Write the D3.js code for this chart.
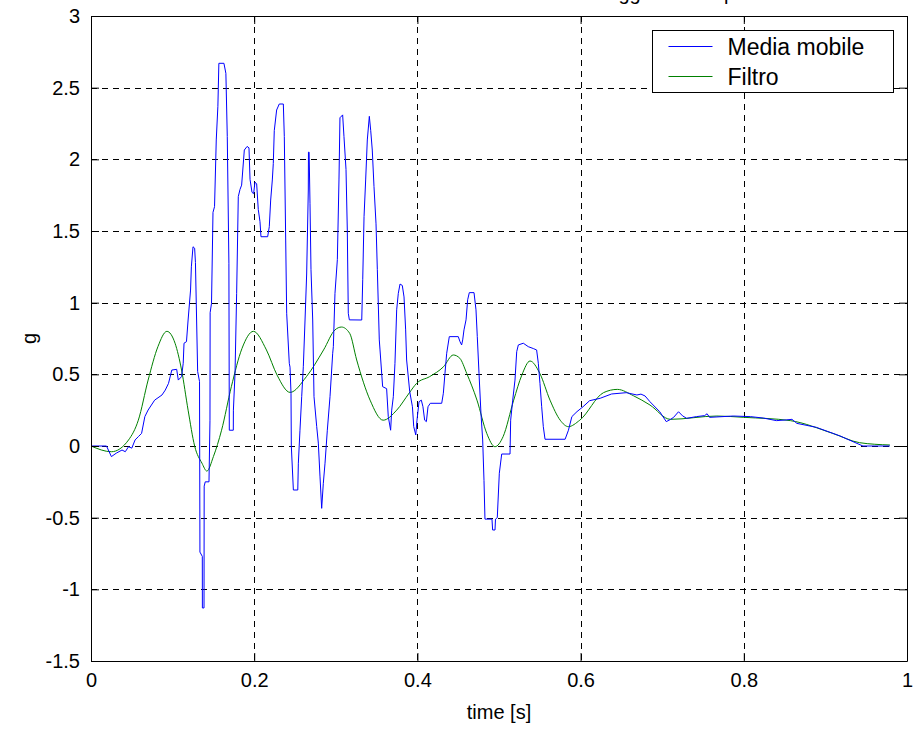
<!DOCTYPE html>
<html>
<head>
<meta charset="utf-8">
<script src="https://cdn.jsdelivr.net/npm/d3@7"></script>
<style>
  body { margin: 0; background: #fff; }
  svg { display: block; font-family: "Liberation Sans", Arial, sans-serif; }
</style>
</head>
<body>
<svg id="chart" width="913" height="729"></svg>
<script>
// Axis ticks
const xTicks = [0, 0.2, 0.4, 0.6, 0.8, 1];
const yTicks = [-1.5, -1, -0.5, 0, 0.5, 1, 1.5, 2, 2.5, 3];

// Moving-average acceleration (time in s, value in g)
const mediaT = [0, 0.019, 0.025, 0.031, 0.038, 0.042, 0.046, 0.05, 0.054, 0.058, 0.062, 0.066, 0.07, 0.078, 0.087, 0.091, 0.095, 0.099, 0.105, 0.107, 0.111, 0.113, 0.114, 0.117, 0.119, 0.122, 0.123, 0.125, 0.127, 0.128, 0.1307, 0.133, 0.1335, 0.1364, 0.1365, 0.1385, 0.1387, 0.140, 0.1446, 0.1458, 0.146, 0.1477, 0.1495, 0.1514, 0.1535, 0.1555, 0.1567, 0.1629, 0.1653, 0.167, 0.169, 0.1695, 0.1744, 0.1745, 0.1765, 0.1785, 0.1805, 0.1826, 0.1846, 0.1879, 0.1913, 0.1936, 0.1949, 0.1973, 0.1993, 0.2009, 0.203, 0.205, 0.2071, 0.2083, 0.2165, 0.2185, 0.2202, 0.2222, 0.2234, 0.2246, 0.2275, 0.2307, 0.2357, 0.2369, 0.2386, 0.2398, 0.243, 0.2439, 0.2451, 0.2455, 0.248, 0.2534, 0.2541, 0.2561, 0.2582, 0.2602, 0.2605, 0.2623, 0.2643, 0.2663, 0.2665, 0.2673, 0.2684, 0.2696, 0.2717, 0.2733, 0.2766, 0.2786, 0.2806, 0.2827, 0.2847, 0.2868, 0.2896, 0.2929, 0.2962, 0.297, 0.299, 0.3019, 0.3039, 0.3051, 0.3084, 0.31, 0.3125, 0.3141, 0.3153, 0.3166, 0.3318, 0.333, 0.3346, 0.3366, 0.3386, 0.3411, 0.3428, 0.3447, 0.3468, 0.3493, 0.3509, 0.3533, 0.3542, 0.3574, 0.3623, 0.3643, 0.3672, 0.3685, 0.3705, 0.3725, 0.3746, 0.3766, 0.3787, 0.3815, 0.3836, 0.3856, 0.3868, 0.3906, 0.3939, 0.3955, 0.398, 0.3995, 0.402, 0.4048, 0.4068, 0.4089, 0.411, 0.413, 0.4158, 0.4298, 0.4318, 0.4338, 0.4359, 0.4391, 0.4501, 0.4522, 0.4542, 0.4555, 0.4571, 0.4596, 0.4616, 0.4636, 0.4694, 0.4718, 0.4734, 0.4755, 0.4779, 0.48, 0.4816, 0.4828, 0.4914, 0.4922, 0.4951, 0.4957, 0.4979, 0.5004, 0.5033, 0.5135, 0.5143, 0.5168, 0.5196, 0.5217, 0.5237, 0.5298, 0.5359, 0.542, 0.5461, 0.5482, 0.5502, 0.5523, 0.5543, 0.5564, 0.581, 0.5851, 0.5893, 0.5956, 0.603, 0.611, 0.624, 0.638, 0.656, 0.669, 0.674, 0.679, 0.685, 0.697, 0.705, 0.71, 0.714, 0.72, 0.725, 0.73, 0.742, 0.752, 0.755, 0.758, 0.787, 0.808, 0.824, 0.84, 0.852, 0.859, 0.865, 0.889, 0.918, 0.946, 0.979];
const mediaG = [0, 0, -0.074, -0.05, -0.028, -0.04, -0.005, -0.015, 0.042, 0.065, 0.088, 0.205, 0.251, 0.32, 0.356, 0.39, 0.437, 0.53, 0.535, 0.46, 0.484, 0.577, 0.717, 0.728, 0.879, 1.088, 1.25, 1.39, 1.38, 1.28, 0.52, 0.45, -0.74, -0.77, -1.13, -1.13, -0.28, -0.25, -0.25, 0.18, 0.93, 0.996, 1.63, 1.67, 2.135, 2.37, 2.67, 2.67, 2.6, 2.16, 1.275, 0.11, 0.11, 0.25, 0.507, 1.065, 1.74, 1.79, 1.82, 2.065, 2.09, 2.08, 1.86, 1.77, 1.76, 1.84, 1.83, 1.65, 1.565, 1.46, 1.46, 1.53, 1.716, 1.856, 1.97, 2.2, 2.344, 2.386, 2.386, 2.16, 1.437, 0.926, 0.577, 0.55, 0.368, 0, -0.307, -0.307, -0.12, 0.11, 0.344, 0.553, 0.6, 0.879, 1.2, 1.786, 2.05, 2.05, 1.69, 1.23, 0.879, 0.344, 0.135, 0.02, -0.21, -0.435, -0.26, -0.12, 0.11, 0.344, 0.647, 0.693, 1.065, 1.3, 1.856, 2.29, 2.31, 2.16, 1.93, 1.507, 0.926, 0.88, 0.879, 1.16, 1.6, 1.856, 2.135, 2.3, 2.2, 2.065, 1.81, 1.55, 1.23, 0.74, 0.67, 0.414, 0.4, 0.205, 0.11, 0.25, 0.344, 0.577, 0.95, 1.065, 1.13, 1.12, 1.04, 0.81, 0.6, 0.379, 0.274, 0.135, 0.077, 0.18, 0.309, 0.32, 0.274, 0.18, 0.17, 0.274, 0.298, 0.298, 0.368, 0.507, 0.647, 0.763, 0.763, 0.728, 0.705, 0.74, 0.81, 0.88, 1.02, 1.07, 1.07, 0.95, 0.763, 0.507, 0.228, 0.042, -0.24, -0.51, -0.51, -0.586, -0.586, -0.51, -0.5, -0.19, -0.056, -0.056, 0.18, 0.32, 0.46, 0.658, 0.705, 0.717, 0.693, 0.68, 0.67, 0.577, 0.437, 0.274, 0.135, 0.047, 0.047, 0.11, 0.205, 0.24, 0.274, 0.316, 0.333, 0.363, 0.372, 0.356, 0.362, 0.349, 0.309, 0.239, 0.17, 0.185, 0.2, 0.239, 0.21, 0.193, 0.205, 0.212, 0.225, 0.2, 0.209, 0.205, 0.195, 0.177, 0.182, 0.186, 0.158, 0.13, 0.07, 0, 0];

// Filtered acceleration (time in s, value in g)
const filtroT = [0, 0.025, 0.046, 0.058, 0.07, 0.082, 0.093, 0.103, 0.111, 0.119, 0.127, 0.136, 0.142, 0.15, 0.16, 0.172, 0.185, 0.199, 0.215, 0.228, 0.244, 0.264, 0.285, 0.299, 0.307, 0.317, 0.3256, 0.342, 0.358, 0.3746, 0.39, 0.399, 0.415, 0.432, 0.444, 0.452, 0.4604, 0.473, 0.485, 0.495, 0.505, 0.518, 0.528, 0.538, 0.55, 0.5625, 0.575, 0.585, 0.599, 0.628, 0.645, 0.665, 0.685, 0.71, 0.767, 0.8, 0.857, 0.909, 0.942, 0.979];
const filtroG = [0, -0.04, 0.042, 0.18, 0.46, 0.693, 0.8, 0.717, 0.53, 0.25, 0, -0.12, -0.175, -0.074, 0.11, 0.414, 0.68, 0.8, 0.67, 0.495, 0.374, 0.484, 0.67, 0.81, 0.83, 0.786, 0.6, 0.32, 0.18, 0.25, 0.37, 0.437, 0.484, 0.553, 0.635, 0.612, 0.507, 0.32, 0.088, -0.005, 0.065, 0.32, 0.495, 0.593, 0.507, 0.32, 0.18, 0.135, 0.18, 0.372, 0.395, 0.35, 0.286, 0.186, 0.209, 0.2, 0.177, 0.088, 0.023, 0.007];

const seriesNames = ["Media mobile", "Filtro"];
const seriesColors = ["#0000ff", "#008000"];
const titleText = "Accelerazione verticale sul sedile del veicolo leggero e del pesante";
const xLabel = "time [s]";
const yLabel = "g";

const svg = d3.select("#chart");
const plot = { left: 91, top: 16, right: 907, bottom: 661 };
const x = d3.scaleLinear().domain([0, 1]).range([plot.left, plot.right]);
const y = d3.scaleLinear().domain([-1.5, 3]).range([plot.bottom, plot.top]);
const fontSize = 20;

// plot background
svg.append("rect").attr("x", plot.left).attr("y", plot.top)
  .attr("width", plot.right - plot.left).attr("height", plot.bottom - plot.top)
  .attr("fill", "#fff");

// dashed grid
const grid = svg.append("g").attr("stroke", "#000").attr("stroke-width", 1)
  .attr("stroke-dasharray", "6,5").attr("shape-rendering", "crispEdges");
grid.selectAll("line.gx").data(xTicks.slice(1, -1)).join("line")
  .attr("x1", d => Math.round(x(d)) + 0.5).attr("x2", d => Math.round(x(d)) + 0.5)
  .attr("y1", plot.top).attr("y2", plot.bottom);
grid.selectAll("line.gy").data(yTicks.slice(1, -1)).join("line")
  .attr("y1", d => Math.round(y(d)) + 0.5).attr("y2", d => Math.round(y(d)) + 0.5)
  .attr("x1", plot.left).attr("x2", plot.right);

// data lines
svg.append("clipPath").attr("id", "plotClip").append("rect")
  .attr("x", plot.left).attr("y", plot.top)
  .attr("width", plot.right - plot.left).attr("height", plot.bottom - plot.top);

const mediaData = mediaT.map((t, i) => [t, mediaG[i]]);
const filtroData = filtroT.map((t, i) => [t, filtroG[i]]);

const lines = svg.append("g").attr("clip-path", "url(#plotClip)").attr("fill", "none");
lines.append("path").datum(filtroData)
  .attr("stroke", seriesColors[1]).attr("stroke-width", 1)
  .attr("d", d3.line().x(d => x(d[0])).y(d => y(d[1])).curve(d3.curveMonotoneX));
lines.append("path").datum(mediaData)
  .attr("stroke", seriesColors[0]).attr("stroke-width", 1)
  .attr("d", d3.line().x(d => x(d[0])).y(d => y(d[1])));

// axes with inward ticks on all four sides
const fmt = d => String(d);
const axB = svg.append("g").attr("transform", `translate(0,${plot.bottom})`)
  .call(d3.axisBottom(x).tickValues(xTicks).tickFormat(fmt).tickSizeInner(-8).tickSizeOuter(0).tickPadding(12));
const axL = svg.append("g").attr("transform", `translate(${plot.left},0)`)
  .call(d3.axisLeft(y).tickValues(yTicks).tickFormat(fmt).tickSizeInner(-8).tickSizeOuter(0).tickPadding(11));
const axT = svg.append("g").attr("transform", `translate(0,${plot.top})`)
  .call(d3.axisTop(x).tickValues(xTicks).tickFormat("").tickSizeInner(-8).tickSizeOuter(0));
const axR = svg.append("g").attr("transform", `translate(${plot.right},0)`)
  .call(d3.axisRight(y).tickValues(yTicks).tickFormat("").tickSizeInner(-8).tickSizeOuter(0));
[axB, axL, axT, axR].forEach(a => {
  a.select(".domain").attr("stroke", "#000");
  a.selectAll(".tick line").attr("stroke", "#000");
  a.selectAll("text").attr("fill", "#000").attr("font-size", fontSize)
    .attr("font-family", "Liberation Sans, Arial, sans-serif");
});

// title (sits above the top of the figure)
svg.append("text").attr("x", (plot.left + plot.right) / 2).attr("y", 0)
  .attr("text-anchor", "middle").attr("font-size", fontSize).text(titleText);

// axis labels
svg.append("text").attr("x", (plot.left + plot.right) / 2).attr("y", 719)
  .attr("text-anchor", "middle").attr("font-size", fontSize).text(xLabel);
svg.append("text").attr("transform", `translate(36,${(plot.top + plot.bottom) / 2}) rotate(-90)`)
  .attr("text-anchor", "middle").attr("font-size", fontSize).text(yLabel);

// legend
const lg = svg.append("g").attr("transform", "translate(652.5,30.5)");
lg.append("rect").attr("width", 241).attr("height", 62).attr("fill", "#fff").attr("stroke", "#000");
seriesNames.forEach((name, i) => {
  const yy = 16 + i * 30;
  lg.append("line").attr("x1", 16).attr("x2", 60).attr("y1", yy).attr("y2", yy)
    .attr("stroke", seriesColors[i]).attr("stroke-width", 1);
  lg.append("text").attr("x", 75).attr("y", yy + 8).attr("font-size", 23).text(name);
});
</script>
</body>
</html>
